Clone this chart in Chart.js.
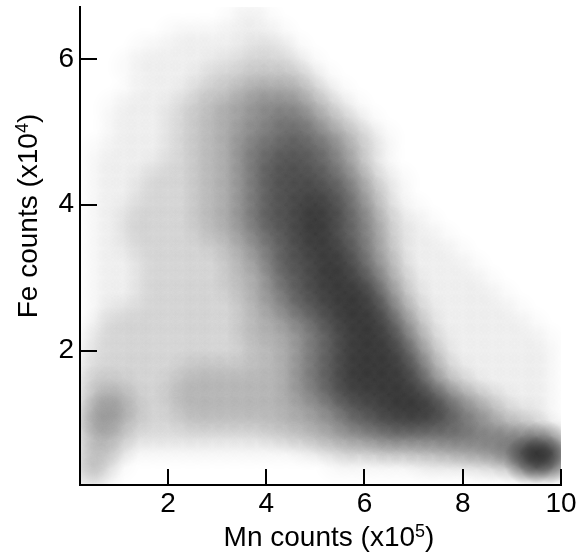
<!DOCTYPE html>
<html>
<head>
<meta charset="utf-8">
<script src="https://cdn.jsdelivr.net/npm/chart.js@4.4.0/dist/chart.umd.min.js"></script>
<style>
  html, body { margin: 0; padding: 0; background: #fff; }
  canvas { display: block; }
</style>
</head>
<body>
<canvas id="chart" width="582" height="560"></canvas>
<script>
// bin centres, Mn counts (x10^5) and Fe counts (x10^4)
const mnBins = [0.35, 0.65, 0.95, 1.25, 1.55, 1.85, 2.15, 2.45, 2.75, 3.05, 3.35,
                3.65, 3.95, 4.25, 4.55, 4.85, 5.15, 5.45, 5.75, 6.05, 6.35, 6.65,
                6.95, 7.25, 7.55, 7.85, 8.15, 8.45, 8.75, 9.05, 9.35, 9.65, 9.95];
const feBins = [6.7, 6.5, 6.3, 6.1, 5.9, 5.7, 5.5, 5.3, 5.1, 4.9, 4.7,
                4.5, 4.3, 4.1, 3.9, 3.7, 3.5, 3.3, 3.1, 2.9, 2.7, 2.5,
                2.3, 2.1, 1.9, 1.7, 1.5, 1.3, 1.1, 0.9, 0.7, 0.5, 0.3];

// point density, 0 (empty) .. 9 (black), one row per feBins entry
const density = [
  "000000000001000000000000000000000",
  "000000000011100000000000000000000",
  "000000111111110000000000000000000",
  "000011111112221000000000000000000",
  "000111111222222100000000000000000",
  "000011112223333210000000000000000",
  "000111122334444321000000000000000",
  "001111223344555432100000000000000",
  "001111223344556543210000000000000",
  "001111223345566654321000000000000",
  "011111223345667665321000000000000",
  "011112223345677765421000000000000",
  "011122223345677776532100000000000",
  "011122223345677877542100000000000",
  "011222223345677887643110000000000",
  "011222223345677887653211000000000",
  "011222222334567887653211100000000",
  "011122222234567788754211110000000",
  "011122222233467788764311111000000",
  "011122222233456788875321111100000",
  "011122222223456778886421111110000",
  "012222222223345678887532111111000",
  "022222222223344567888642111111100",
  "122222222223334567888753211111110",
  "122222222222334567888864211111110",
  "222222233333334567888875321111110",
  "233222333333334567888886432111110",
  "244322333333334456778888754321110",
  "354322233333333445677888765432210",
  "343222222222233344556666665544321",
  "233111111111111223334444455566785",
  "331000000000000001111112222335997",
  "320000000000000000000000000000000"
];

const xTicks = [2, 4, 6, 8, 10];
const yTicks = [2, 4, 6];
const xTitle = ["Mn counts (x10", "5", ")"];
const yTitle = ["Fe counts (x10", "4", ")"];

const shade = [0, 0.05, 0.11, 0.18, 0.26, 0.35, 0.45, 0.56, 0.7, 1.0];
const FONT = '"Liberation Sans", Arial, sans-serif';
const BLOB_R = 26; // a bit under 2 bins, so neighbouring bins merge into a cloud

const points = [];
feBins.forEach((fe, j) => {
  mnBins.forEach((mn, i) => {
    const d = +density[j][i];
    if (d > 0) points.push({ x: mn, y: fe, d: d });
  });
});

// one soft radial blob per density level, used as the point style
const blobs = shade.map(s => {
  const c = document.createElement('canvas');
  c.width = c.height = 2 * BLOB_R + 2;
  const g2 = c.getContext('2d');
  const m = BLOB_R + 1;
  const a = Math.min(1, s * 0.45);
  const g = g2.createRadialGradient(m, m, 0, m, m, BLOB_R);
  g.addColorStop(0, 'rgba(0,0,0,' + a + ')');
  g.addColorStop(0.4, 'rgba(0,0,0,' + (a * 0.85) + ')');
  g.addColorStop(0.75, 'rgba(0,0,0,' + (a * 0.35) + ')');
  g.addColorStop(1, 'rgba(0,0,0,0)');
  g2.fillStyle = g;
  g2.fillRect(0, 0, c.width, c.height);
  return c;
});

function drawTitle(ctx, parts, cx, baseline) {
  ctx.font = '28px ' + FONT;
  const w1 = ctx.measureText(parts[0]).width;
  const w3 = ctx.measureText(parts[2]).width;
  ctx.font = '18px ' + FONT;
  const w2 = ctx.measureText(parts[1]).width;
  const x0 = cx - (w1 + w2 + w3) / 2;
  ctx.textAlign = 'left';
  ctx.textBaseline = 'alphabetic';
  ctx.font = '28px ' + FONT;
  ctx.fillText(parts[0], x0, baseline);
  ctx.font = '18px ' + FONT;
  ctx.fillText(parts[1], x0 + w1, baseline - 9);
  ctx.font = '28px ' + FONT;
  ctx.fillText(parts[2], x0 + w1 + w2, baseline);
}

// inward ticks and the axis titles with superscripts
const axisExtras = {
  id: 'axisExtras',
  afterDraw(chart) {
    const { ctx, chartArea: a, scales: { x, y } } = chart;
    ctx.save();
    ctx.strokeStyle = '#000';
    ctx.lineWidth = 2;
    ctx.beginPath();
    xTicks.forEach(v => {
      const p = Math.round(x.getPixelForValue(v));
      ctx.moveTo(p, a.bottom); ctx.lineTo(p, a.bottom - 16);
    });
    yTicks.forEach(v => {
      const p = Math.round(y.getPixelForValue(v));
      ctx.moveTo(a.left, p); ctx.lineTo(a.left + 17, p);
    });
    ctx.stroke();
    ctx.fillStyle = '#000';
    drawTitle(ctx, xTitle, 329, 546);
    ctx.translate(37, 216);
    ctx.rotate(-Math.PI / 2);
    drawTitle(ctx, yTitle, 0, 0);
    ctx.restore();
  }
};

new Chart(document.getElementById('chart'), {
  type: 'scatter',
  data: {
    datasets: [{
      data: points,
      pointStyle: c => c.raw ? blobs[c.raw.d] : 'circle',
      pointRadius: 1,
      pointBorderWidth: 0,
      clip: 0
    }]
  },
  options: {
    responsive: false,
    animation: false,
    events: [],
    layout: { padding: { top: 7, right: 21, left: 0, bottom: 0 } },
    plugins: { legend: { display: false }, tooltip: { enabled: false } },
    scales: {
      x: {
        type: 'linear',
        min: 0.21,
        max: 10,
        afterFit(s) { s.height = 75; s.paddingLeft = 0; s.paddingRight = 0; },
        afterBuildTicks(s) { s.ticks = xTicks.map(v => ({ value: v })); },
        grid: { display: false, drawTicks: false },
        border: { display: true, color: '#000', width: 2 },
        ticks: { color: '#000', font: { family: FONT, size: 28 }, padding: 2, maxRotation: 0, autoSkip: false }
      },
      y: {
        type: 'linear',
        min: 0.16,
        max: 6.71,
        afterFit(s) { s.width = 80; s.paddingTop = 0; s.paddingBottom = 0; },
        afterBuildTicks(s) { s.ticks = yTicks.map(v => ({ value: v })); },
        grid: { display: false, drawTicks: false },
        border: { display: true, color: '#000', width: 2 },
        ticks: { color: '#000', font: { family: FONT, size: 28 }, padding: 6, autoSkip: false }
      }
    }
  },
  plugins: [axisExtras]
});
</script>
</body>
</html>
